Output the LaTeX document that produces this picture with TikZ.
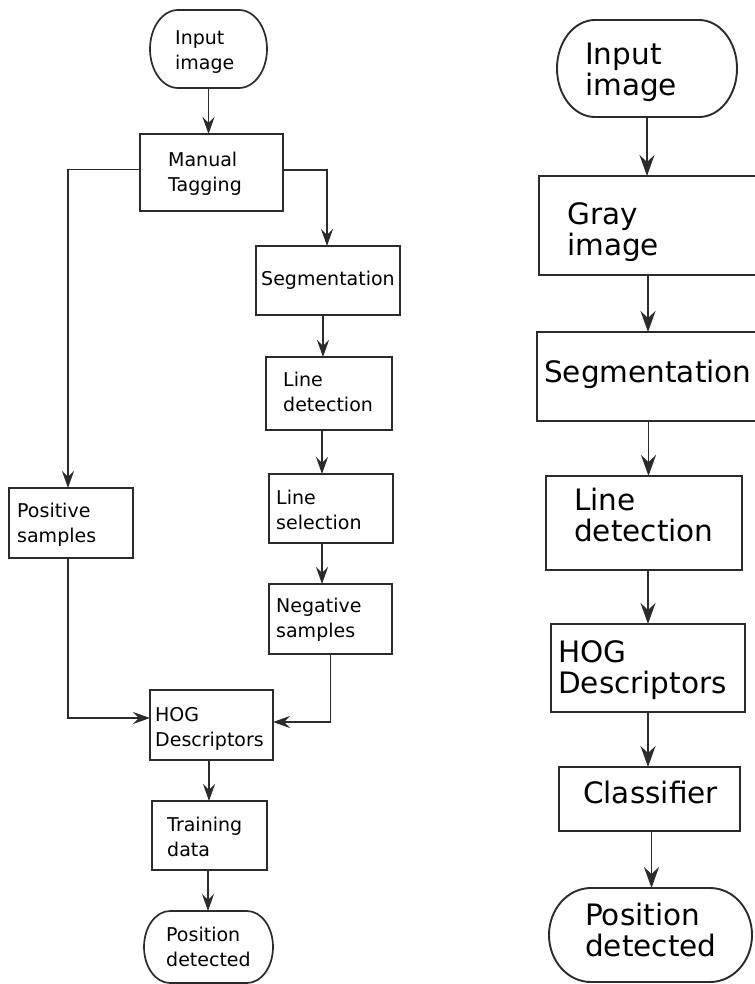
\documentclass[tikz,border=0pt]{standalone}
\usepackage{fontspec}
\setmainfont{DejaVu Sans}
\usetikzlibrary{arrows.meta}
\definecolor{ink}{HTML}{2B2B2B}

% two stacked lines, baseline on the first one
\newcommand\twoln[2]{\begin{tabular}[t]{@{}l@{}}#1\\#2\end{tabular}}
% terminal outline with elliptical ends around a borderless node
% #1 node, #2 horizontal radius, #3 vertical radius, #4 line width
\newcommand\stadiumoutline[4]{%
  \draw[draw=ink, line width=#4]
    ([xshift=#2]#1.north west) -- ([xshift=-#2]#1.north east)
    arc[start angle=90, end angle=-90, x radius=#2, y radius=#3]
    -- ([xshift=#2]#1.south west)
    arc[start angle=270, end angle=90, x radius=#2, y radius=#3] -- cycle;}

\tikzset{
  boxL/.style={draw=ink, line width=1.7bp, inner sep=0pt, outer sep=0pt},
  boxR/.style={draw=ink, line width=1.9bp, inner sep=0pt, outer sep=0pt},
  shell/.style={inner sep=0pt, outer sep=0pt},
  lblL/.style={inner sep=0pt, anchor=base west, text=black,
               font=\fontsize{19bp}{25bp}\selectfont},
  lblR/.style={inner sep=0pt, anchor=base west, text=black,
               font=\fontsize{29.5bp}{31bp}\selectfont},
  flowL/.style={draw=ink, line width=1.6bp,
                -{Stealth[length=17bp, width=12bp, inset=6bp]}},
  flowR/.style={draw=ink, line width=1.8bp,
                -{Stealth[length=21bp, width=15bp, inset=7bp]}},
}

\begin{document}
\begin{tikzpicture}[x=1bp, y=-1bp]
\useasboundingbox (0,0) rectangle (755,984);

% ---------------- training pipeline (left) ----------------
\node[shell, minimum width=117bp, minimum height=78bp] (inL) at (208.5,49) {};
\stadiumoutline{inL}{28bp}{39bp}{1.7bp}
\node[boxL, minimum width=143bp, minimum height=77bp] (tag)   at (211.5,172.5) {};
\node[boxL, minimum width=144bp, minimum height=69bp] (seg)   at (328,280.5) {};
\node[boxL, minimum width=126bp, minimum height=73bp] (ldet)  at (329,393.5) {};
\node[boxL, minimum width=124bp, minimum height=69bp] (lsel)  at (331,508.5) {};
\node[boxL, minimum width=123bp, minimum height=70bp] (neg)   at (330.5,619) {};
\node[boxL, minimum width=124bp, minimum height=70bp] (pos)   at (71,523) {};
\node[boxL, minimum width=123bp, minimum height=70bp] (hogL)  at (211.5,725) {};
\node[boxL, minimum width=115bp, minimum height=69bp] (train) at (209.5,835.5) {};
\node[shell, minimum width=129bp, minimum height=72bp] (outL) at (208.5,947) {};
\stadiumoutline{outL}{26bp}{36bp}{1.7bp}

\node[lblL] (t-inL)   at (175,44)  {\twoln{Input}{image}};
\node[lblL] (t-tag)   at (168,166) {\twoln{Manual}{Tagging}};
\node[lblL] (t-seg)   at (261,285) {Segmentation};
\node[lblL] (t-ldet)  at (283,386) {\twoln{Line}{detection}};
\node[lblL] (t-lsel)  at (276,504) {\twoln{Line}{selection}};
\node[lblL] (t-neg)   at (276,612) {\twoln{Negative}{samples}};
\node[lblL] (t-pos)   at (17,517)  {\twoln{Positive}{samples}};
\node[lblL] (t-hogL)  at (155,721) {\twoln{HOG}{Descriptors}};
\node[lblL] (t-train) at (167,831) {\twoln{Training}{data}};
\node[lblL] (t-outL)  at (166,941) {\twoln{Position}{detected}};

\draw[flowL] (inL.south) -- (inL.south |- tag.north);
\draw[flowL] ([yshift=3bp]tag.west) -| ([xshift=-3bp]pos.north);
\draw[flowL] ([yshift=2.5bp]tag.east) -| ([xshift=-1bp]seg.north);
\draw[flowL] ([xshift=-5bp]seg.south) -- ([xshift=-5bp]seg.south |- ldet.north);
\draw[flowL] ([xshift=-7bp]ldet.south) -- ([xshift=-7bp]ldet.south |- lsel.north);
\draw[flowL] ([xshift=-9bp]lsel.south) -- ([xshift=-9bp]lsel.south |- neg.north);
\draw[flowL] ([xshift=-3bp]pos.south) |- ([yshift=7bp]hogL.west);
\draw[flowL] (neg.south) |- ([yshift=3bp]hogL.east);
\draw[flowL] ([xshift=-2.5bp]hogL.south) -- ([xshift=-2.5bp]hogL.south |- train.north);
\draw[flowL] ([xshift=-1.5bp]train.south) -- ([xshift=-1.5bp]train.south |- outL.north);

% ---------------- detection pipeline (right) ----------------
\node[shell, minimum width=180bp, minimum height=97bp] (inR) at (647,68.5) {};
\stadiumoutline{inR}{38bp}{48.5bp}{1.9bp}
\node[boxR, minimum width=221bp, minimum height=99bp] (grayR) at (649.5,225.5) {};
\node[boxR, minimum width=223bp, minimum height=89bp] (segR)  at (648.5,376.5) {};
\node[boxR, minimum width=196bp, minimum height=94bp] (ldetR) at (644,523) {};
\node[boxR, minimum width=194bp, minimum height=88bp] (hogR)  at (648,668) {};
\node[boxR, minimum width=181bp, minimum height=64bp] (clsR)  at (649.5,799) {};
\node[shell, minimum width=203bp, minimum height=94bp] (outR) at (650.5,935) {};
\stadiumoutline{outR}{42bp}{47bp}{1.9bp}

\node[lblR] (t-inR)   at (585,64)  {\twoln{Input}{image}};
\node[lblR] (t-grayR) at (567,224) {\twoln{Gray}{image}};
\node[lblR] (t-segR)  at (544,382) {Segmentation};
\node[lblR] (t-ldetR) at (574,510) {\twoln{Line}{detection}};
\node[lblR] (t-hogR)  at (558,662) {\twoln{HOG}{Descriptors}};
\node[lblR] (t-clsR)  at (583,803) {Classifier};
\node[lblR] (t-outR)  at (585,925) {\twoln{Position}{detected}};

\draw[flowR] (inR.south) -- (inR.south |- grayR.north);
\draw[flowR] ([xshift=-1.5bp]grayR.south) -- ([xshift=-1.5bp]grayR.south |- segR.north);
\draw[flowR] (segR.south) -- (segR.south |- ldetR.north);
\draw[flowR] ([xshift=4bp]ldetR.south) -- ([xshift=4bp]ldetR.south |- hogR.north);
\draw[flowR] (hogR.south) -- (hogR.south |- clsR.north);
\draw[flowR] ([xshift=2bp]clsR.south) -- ([xshift=2bp]clsR.south |- outR.north);
\end{tikzpicture}
\end{document}
